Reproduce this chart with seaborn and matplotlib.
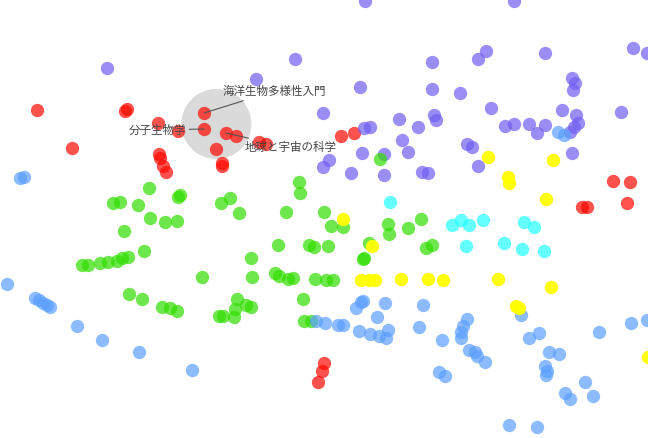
import matplotlib
matplotlib.use('Agg')
import matplotlib.pyplot as plt
from matplotlib.patches import Circle
import numpy as np
import pandas as pd
import seaborn as sns

sns.set_theme(style='white')
plt.rcParams['font.family'] = ['Noto Sans CJK JP', 'DejaVu Sans']

# point positions per group (x, y in the chart's own units, y grows downward)
red_pts = [(37, 110), (127, 109), (125, 111), (158, 123), (178, 131), (204, 113),
           (204, 129), (216, 149), (72, 148), (159, 154), (160, 158), (163, 166),
           (166, 172), (226, 133), (236, 136), (259, 142), (266, 144), (222, 163),
           (222, 166), (341, 136), (354, 133), (613, 181), (630, 182), (582, 207),
           (587, 207), (627, 203), (324, 363), (322, 371), (318, 382)]

purple_pts = [(107, 68), (365, 1), (514, 1), (295, 59), (256, 79), (360, 87), (323, 113),
              (364, 128), (370, 127), (399, 119), (418, 127), (432, 62), (432, 89),
              (434, 115), (436, 120), (402, 140), (408, 152), (362, 153), (384, 154),
              (329, 160), (323, 167), (351, 173), (384, 175), (422, 172), (428, 173),
              (486, 51), (478, 59), (545, 53), (633, 48), (647, 53), (460, 93),
              (572, 78), (575, 83), (573, 90), (491, 108), (562, 110), (576, 115),
              (578, 123), (574, 127), (570, 132), (505, 126), (514, 124), (529, 124),
              (545, 125), (537, 133), (621, 112), (467, 144), (472, 147), (478, 166),
              (572, 153)]

green_pts = [(149, 188), (180, 195), (178, 197), (113, 203), (120, 202), (138, 205),
             (150, 218), (165, 222), (177, 221), (124, 231), (82, 265), (88, 265),
             (100, 263), (108, 262), (117, 261), (122, 258), (128, 257), (144, 251),
             (202, 277), (129, 294), (142, 299), (162, 307), (170, 308), (177, 311),
             (299, 182), (300, 193), (221, 203), (230, 198), (239, 213), (286, 212),
             (324, 212), (380, 159), (421, 219), (331, 226), (343, 227), (388, 224),
             (389, 234), (408, 228), (278, 245), (309, 245), (314, 247), (328, 246),
             (369, 243), (426, 248), (432, 245), (251, 258), (363, 259), (364, 258),
             (252, 277), (275, 273), (279, 276), (288, 279), (293, 278), (315, 279),
             (326, 280), (333, 280), (303, 299), (237, 299), (246, 305), (251, 307),
             (235, 309), (234, 317), (219, 316), (223, 316), (304, 321), (311, 321)]

lightblue_pts = [(20, 178), (24, 177), (558, 132), (564, 135), (7, 284), (35, 298),
                 (39, 300), (43, 303), (47, 305), (50, 307), (77, 326), (102, 340),
                 (139, 352), (192, 370), (316, 321), (325, 323), (338, 325), (343, 325),
                 (356, 308), (361, 302), (363, 301), (385, 303), (377, 317), (423, 305),
                 (359, 331), (370, 334), (379, 336), (386, 338), (388, 330), (419, 327),
                 (521, 315), (467, 319), (463, 326), (461, 332), (461, 338), (442, 340),
                 (529, 338), (539, 333), (599, 332), (631, 323), (647, 320), (469, 350),
                 (475, 352), (477, 356), (485, 362), (549, 352), (559, 354), (545, 366),
                 (547, 371), (546, 375), (439, 372), (445, 376), (585, 382), (565, 393),
                 (570, 399), (593, 396), (509, 425), (537, 427)]

yellow_pts = [(343, 219), (372, 246), (361, 280), (369, 280), (375, 280), (401, 279),
              (428, 279), (443, 280), (488, 157), (553, 160), (508, 177), (509, 183),
              (546, 199), (498, 279), (551, 287), (516, 306), (519, 308), (648, 357)]

cyan_pts = [(390, 202), (452, 225), (461, 220), (469, 225), (483, 220), (524, 222),
            (534, 227), (466, 246), (504, 243), (522, 249), (544, 251)]

groups = ['red', 'purple', 'green', 'lightblue', 'yellow', 'cyan']
group_pts = [red_pts, purple_pts, green_pts, lightblue_pts, yellow_pts, cyan_pts]
colors = {'red': '#ff0800', 'purple': '#6f5ef1', 'green': '#30de00',
          'lightblue': '#5b9fff', 'yellow': '#ffff00', 'cyan': '#22ffff'}
alphas = {'red': 0.7, 'purple': 0.7, 'green': 0.7, 'lightblue': 0.7,
          'yellow': 0.95, 'cyan': 0.7}

# labelled points (index into red_pts) with label text
label_names = ['海洋生物多様性入門', '分子生物学', '地球と宇宙の科学']
label_idx = [5, 6, 13]

rows = []
for g, pts in zip(groups, group_pts):
    for x, y in pts:
        rows.append({'x': x, 'y': y, 'group': g})
df = pd.DataFrame(rows)

fig = plt.figure(figsize=(6.48, 4.38), dpi=100)
ax = fig.add_axes([0, 0, 1, 1])

# highlight circle around the labelled points
lab = np.array([red_pts[i] for i in label_idx], dtype=float)
cx, cy = lab.mean(axis=0) + np.array([5, -1])
ax.add_patch(Circle((cx, cy), 35, facecolor='#d6d6d6', edgecolor='none',
                    alpha=0.9, zorder=1))

for g in groups:
    sub = df[df['group'] == g]
    sns.scatterplot(data=sub, x='x', y='y', color=colors[g], alpha=alphas[g],
                    s=92, linewidth=0, ax=ax, legend=False, zorder=2)

offsets = [(19, 22, 'left'), (-18, -1, 'right'), (19, -15, 'left')]
for name, i, (dx, dy, ha) in zip(label_names, label_idx, offsets):
    ax.annotate(name, xy=red_pts[i], xytext=(dx, dy), textcoords='offset pixels',
                ha=ha, va='center', fontsize=8.3, color='#444444', zorder=3,
                arrowprops=dict(arrowstyle='-', color='#555555', lw=0.8,
                                shrinkA=0, shrinkB=0))

ax.set_xlim(0, 648)
ax.set_ylim(438, 0)
ax.axis('off')

fig.savefig('out.png', dpi=100)
